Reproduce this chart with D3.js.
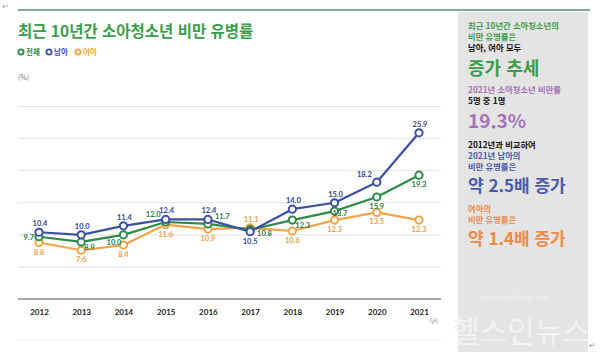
<!DOCTYPE html>
<html lang="ko">
<head>
<meta charset="utf-8">
<title>최근 10년간 소아청소년 비만 유병률</title>
<script src="https://cdn.jsdelivr.net/npm/d3@7"></script>
<style>
  body { margin: 0; background: #fff; }
  svg { display: block; font-family: "Noto Sans CJK KR", "Noto Sans", sans-serif; }
</style>
</head>
<body>
<div id="chart"></div>
<script>
// data
var years = ["2012","2013","2014","2015","2016","2017","2018","2019","2020","2021"];
var totalRate = [9.7, 8.9, 10.0, 12.0, 11.7, 10.8, 12.3, 13.7, 15.9, 19.3];
var boysRate  = [10.4, 10.0, 11.4, 12.4, 12.4, 10.5, 14.0, 15.0, 18.2, 25.9];
var girlsRate = [8.8, 7.6, 8.4, 11.6, 10.9, 11.1, 10.6, 12.3, 13.5, 12.3];
var yTicks = [5, 10, 15, 20, 25, 30];

// where each value label sits relative to its point
var totalLabelPos = ["l","br","bl","tl","tr","rr","br","r","b","b"];
var boysLabelPos  = ["t","t","t","t","t","b","t","t","tl","t"];
var girlsLabelPos = ["b","b","b","b","b","t","b","b","b","b"];

var W = 600, H = 352;
var svg = d3.select("#chart").append("svg").attr("width", W).attr("height", H);

var x = d3.scalePoint().domain(years).range([39, 419]);
var y = d3.scaleLinear().domain([0, 30]).range([299, 106.5]);

// top rule
svg.append("line").attr("x1", 18).attr("x2", 590).attr("y1", 10).attr("y2", 10)
  .attr("stroke", "#5d8a72").attr("stroke-width", 1.5);

// right panel
svg.append("rect").attr("x", 458).attr("y", 12).attr("width", 130).attr("height", 340)
  .attr("fill", "#e4e4e4");

// title
svg.append("text").attr("x", 18).attr("y", 37).text("최근 10년간 소아청소년 비만 유병률")
  .attr("font-size", 15.5).attr("font-weight", 700).attr("fill", "#3b9d4a");

// legend
var series = [
  {name: "전체", values: totalRate, pos: totalLabelPos, color: "#2f8a4a", text: "#2a7a42"},
  {name: "남아", values: boysRate, pos: boysLabelPos, color: "#3d4f9f", text: "#34458f"},
  {name: "여아", values: girlsRate, pos: girlsLabelPos, color: "#f0a44a", text: "#e8a04a"}
];
var legX = [21, 49, 78];
series.forEach(function(s, i) {
  svg.append("circle").attr("cx", legX[i]).attr("cy", 52).attr("r", 2.6)
    .attr("fill", "#fff").attr("stroke", s.color).attr("stroke-width", 1.8);
  svg.append("text").attr("x", legX[i] + 5).attr("y", 55).text(s.name)
    .attr("font-size", 7.5).attr("font-weight", 700).attr("fill", s.color);
});

svg.append("text").attr("x", 18).attr("y", 80).text("(%)")
  .attr("font-size", 7).attr("fill", "#777");

// grid
svg.append("g").selectAll("line").data(yTicks).enter().append("line")
  .attr("x1", 18).attr("x2", 441)
  .attr("y1", function(d) { return y(d); }).attr("y2", function(d) { return y(d); })
  .attr("stroke", "#e6e6e6").attr("stroke-width", 1.2);

// x axis
var xAxis = svg.append("g").attr("transform", "translate(0," + y(0) + ")")
  .call(d3.axisBottom(x).tickSize(0).tickPadding(10));
xAxis.select(".domain").remove();
xAxis.append("line").attr("x1", 18).attr("x2", 441).attr("stroke", "#8a8a8a").attr("stroke-width", 1.5);
xAxis.selectAll(".tick text").attr("font-size", 8).attr("font-weight", 700)
  .attr("fill", "#222").attr("font-family", "Lato, 'Noto Sans', sans-serif");
svg.append("text").attr("x", 438).attr("y", 323).attr("text-anchor", "end")
  .text("(년)").attr("font-size", 5.5).attr("fill", "#888");

// faint bottom line
svg.append("line").attr("x1", 18).attr("x2", 441).attr("y1", 340).attr("y2", 340)
  .attr("stroke", "#f1f1ea").attr("stroke-width", 1);

var line = d3.line()
  .x(function(d, i) { return x(years[i]); })
  .y(function(d) { return y(d); });

// draw girls first, then total, then boys on top
[2, 0, 1].forEach(function(k) {
  var s = series[k];
  svg.append("path").datum(s.values).attr("d", line)
    .attr("fill", "none").attr("stroke", s.color).attr("stroke-width", 2.2)
    .attr("stroke-linejoin", "round");
});
[2, 0, 1].forEach(function(k) {
  var s = series[k];
  svg.append("g").selectAll("circle").data(s.values).enter().append("circle")
    .attr("cx", function(d, i) { return x(years[i]); })
    .attr("cy", function(d) { return y(d); })
    .attr("r", 3.6).attr("fill", "#fff").attr("stroke", s.color).attr("stroke-width", 2);
});

// value labels
function labelAttrs(pos, px, py) {
  switch (pos) {
    case "t":  return {x: px + 1, y: py - 6, a: "middle"};
    case "b":  return {x: px, y: py + 12, a: "middle"};
    case "l":  return {x: px - 5, y: py + 3, a: "end"};
    case "r":  return {x: px - 2, y: py + 5, a: "start"};
    case "rr": return {x: px + 7, y: py + 6, a: "start"};
    case "tl": return {x: px - 5, y: py - 5, a: "end"};
    case "tr": return {x: px + 7, y: py - 5, a: "start"};
    case "bl": return {x: px - 2, y: py + 10, a: "end"};
    case "br": return {x: px + 3, y: py + 8, a: "start"};
  }
}
series.forEach(function(s) {
  svg.append("g").selectAll("text").data(s.values).enter().append("text")
    .each(function(d, i) {
      var p = labelAttrs(s.pos[i], x(years[i]), y(d));
      d3.select(this).attr("x", p.x).attr("y", p.y).attr("text-anchor", p.a);
    })
    .text(function(d) { return d.toFixed(1); })
    .attr("font-size", 7.5).attr("font-weight", 700)
    .attr("font-family", "Lato, 'Noto Sans', sans-serif")
    .attr("fill", s.text);
});

// right panel text
var panelLines = [
  {t: "최근 10년간 소아청소년의", y: 29, s: 8.3, c: "#3b9d4a"},
  {t: "비만 유병률은", y: 40, s: 8.3, c: "#3b9d4a"},
  {t: "남아, 여아 모두", y: 51, s: 8.3, c: "#111"},
  {t: "증가 추세", y: 75, s: 18, c: "#3b9d4a"},
  {t: "2021년 소아청소년 비만률", y: 93, s: 8.3, c: "#a472b6"},
  {t: "5명 중 1명", y: 104, s: 8.3, c: "#111"},
  {t: "19.3%", y: 128, s: 19, c: "#a472b6"},
  {t: "2012년과 비교하여", y: 148, s: 8.3, c: "#111"},
  {t: "2021년 남아의", y: 159, s: 8.3, c: "#4a5ba8"},
  {t: "비만 유병률은", y: 170, s: 8.3, c: "#4a5ba8"},
  {t: "약 2.5배 증가", y: 192, s: 17, c: "#4a5ba8"},
  {t: "여아의", y: 212, s: 8.3, c: "#ee8a45"},
  {t: "비만 유병률은", y: 223, s: 8.3, c: "#ee8a45"},
  {t: "약 1.4배 증가", y: 245, s: 17, c: "#ee8a45"}
];
svg.append("g").selectAll("text").data(panelLines).enter().append("text")
  .attr("x", 468).attr("y", function(d) { return d.y; })
  .text(function(d) { return d.t; })
  .attr("font-size", function(d) { return d.s; })
  .attr("font-weight", 700).attr("fill", function(d) { return d.c; });

// watermark
svg.append("text").attr("x", 480).attr("y", 300).text("www.healthinnews.co.kr")
  .attr("font-size", 6).attr("fill", "#f3f3f3");
svg.append("text").attr("x", 452).attr("y", 342).text("헬스인뉴스")
  .attr("font-size", 30).attr("fill", "#f4f4f4").attr("opacity", 0.9);

// paragraph marks
svg.append("text").attr("x", 2).attr("y", 9).text("↵").attr("font-size", 8).attr("fill", "#999");
svg.append("text").attr("x", 589).attr("y", 348).text("↵").attr("font-size", 8).attr("fill", "#999");
</script>
</body>
</html>
